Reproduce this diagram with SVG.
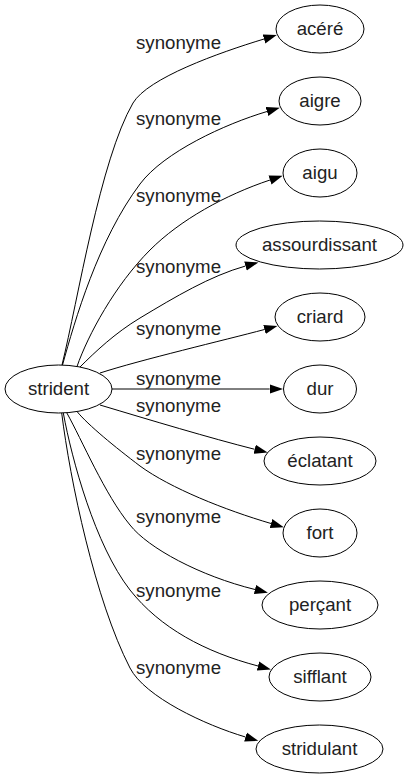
<svg xmlns="http://www.w3.org/2000/svg" width="409" height="779" viewBox="0 0 409 779">
<style>
.node ellipse{fill:#fff;stroke:#000;stroke-width:1}
.node text{font-family:"Liberation Sans",Arial,sans-serif;font-size:18.67px;fill:#222;text-anchor:middle}
.edges path{fill:none;stroke:#000;stroke-width:1;marker-end:url(#arr)}
.edges text{font-family:"Liberation Sans",Arial,sans-serif;font-size:18.67px;fill:#222;text-anchor:middle}
</style>
<defs>
<marker id="arr" markerUnits="userSpaceOnUse" markerWidth="14" markerHeight="10" viewBox="0 0 14 10" refX="0" refY="5" orient="auto">
<path d="M0,0.33 L13.33,5 L0,9.67 z" fill="#000"/>
</marker>
</defs>
<rect width="409" height="779" fill="#fff"/>
<g id="connectors" class="edges">
<path d="M62,365 C78,300 100,160 133,103 C148,78 218,53 264,39"/>
<text x="178.5" y="49.3">synonyme</text>
<path d="M62.5,365 C75,320 98,240 140,184 C164,152 225,124 267,111.5"/>
<text x="178.5" y="125">synonyme</text>
<path d="M77,366.5 C88,335 115,285 150,250 C180,220 225,195 270,180"/>
<text x="178.5" y="201.5">synonyme</text>
<path d="M80,367 C95,352 115,333 140,318 C175,297 210,276 245.5,266"/>
<text x="178.5" y="272.5">synonyme</text>
<path d="M100,373 C140,360 225,340 264.5,329.5"/>
<text x="178.5" y="335">synonyme</text>
<path d="M112,389 L269.7,389"/>
<text x="178.5" y="385">synonyme</text>
<path d="M100,405 C150,420 210,438 254.7,449.3"/>
<text x="178.5" y="411.7">synonyme</text>
<path d="M77,411.5 C88,425 115,447 140,466 C170,488 225,510 271,523.5"/>
<text x="178.5" y="460">synonyme</text>
<path d="M66.7,412.7 C82,440 105,495 130,525 C148,548 200,576 255,589.5"/>
<text x="178.5" y="523.3">synonyme</text>
<path d="M63.3,413 C72,460 95,545 130,590 C160,628 205,652 258,666"/>
<text x="178.5" y="596.7">synonyme</text>
<path d="M61.7,413 C70,480 95,600 130,668 C145,697 205,725 245.5,737"/>
<text x="178.5" y="674.3">synonyme</text>
</g>
<g id="node-strident" class="node"><ellipse cx="58.5" cy="389" rx="53.5" ry="24"/><text x="58.5" y="395">strident</text></g>
<g id="node-acere" class="node"><ellipse cx="320" cy="29" rx="44" ry="24"/><text x="320" y="35">acéré</text></g>
<g id="node-aigre" class="node"><ellipse cx="320" cy="101" rx="41" ry="24"/><text x="320" y="107">aigre</text></g>
<g id="node-aigu" class="node"><ellipse cx="320" cy="173" rx="37" ry="24"/><text x="320" y="179">aigu</text></g>
<g id="node-assourdissant" class="node"><ellipse cx="319.5" cy="245" rx="83.5" ry="24"/><text x="319.5" y="251">assourdissant</text></g>
<g id="node-criard" class="node"><ellipse cx="320" cy="317" rx="45" ry="24"/><text x="320" y="323">criard</text></g>
<g id="node-dur" class="node"><ellipse cx="320" cy="389" rx="36.5" ry="24"/><text x="320" y="395">dur</text></g>
<g id="node-eclatant" class="node"><ellipse cx="320" cy="461" rx="56" ry="24"/><text x="320" y="467">éclatant</text></g>
<g id="node-fort" class="node"><ellipse cx="320" cy="533" rx="37" ry="24"/><text x="320" y="539">fort</text></g>
<g id="node-percant" class="node"><ellipse cx="320" cy="605" rx="58" ry="24"/><text x="320" y="611">perçant</text></g>
<g id="node-sifflant" class="node"><ellipse cx="320" cy="677" rx="51" ry="24"/><text x="320" y="683">sifflant</text></g>
<g id="node-stridulant" class="node"><ellipse cx="319.5" cy="749" rx="63.5" ry="24"/><text x="319.5" y="755">stridulant</text></g>
</svg>
